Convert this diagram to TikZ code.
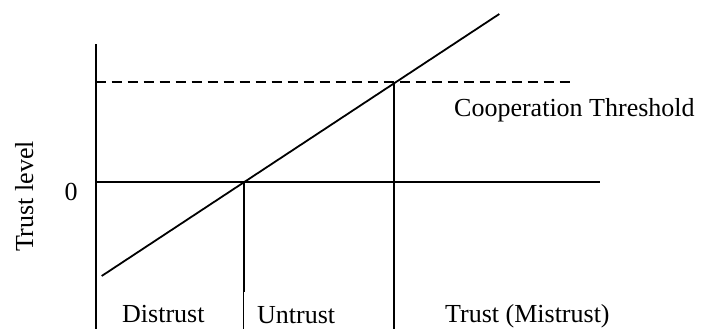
\documentclass[tikz,border=0pt]{standalone}
\usepackage{fontspec}
\setmainfont{Liberation Serif}
\begin{document}
\begin{tikzpicture}[x=1pt, y=1pt,
        axis/.style={line width=1.8pt},
        thinline/.style={line width=0.9pt},
        threshold/.style={line width=1.4pt, dash pattern=on 10pt off 6pt},
        txt/.style={inner sep=0pt, font=\fontsize{26}{31}\selectfont}
    ]
        \useasboundingbox (0,0) rectangle (702,329);

        \coordinate (axistop) at (95.7,284.7);
        \coordinate (axisbot) at (95.7,0);
        \coordinate (zeroleft) at (95.7,146.7);
        \coordinate (zeroright) at (600.3,146.7);
        \coordinate (thrleft) at (95.7,247);
        \coordinate (thrright) at (571,247);
        \coordinate (trendlow) at (101.7,53);
        \coordinate (trendhigh) at (499.3,315);
        \coordinate (zerocross) at (244.3,146.7);
        \coordinate (zerobreak) at (244.3,37);
        \coordinate (thinbreak) at (243.3,37.5);
        \coordinate (thinbot) at (243.3,0);
        \coordinate (thrcross) at (393.7,247);
        \coordinate (thrbot) at (393.7,0);

        \node[txt, rotate=90, anchor=base] (ylabel) at (33,132.5) {Trust level};
        \node[txt, anchor=base] (zero) at (71,128) {0};
        \node[txt, anchor=base west] (coop) at (454,212) {Cooperation Threshold};
        \node[txt, anchor=base west] (distrust) at (122,6) {Distrust};
        \node[txt, anchor=base west] (untrust) at (257,5) {Untrust};
        \node[txt, anchor=base west] (trust) at (445,6) {Trust (Mistrust)};

        \draw[axis] (axistop) -- (axisbot);
        \draw[axis] (zeroleft) -- (zeroright);
        \draw[threshold] (thrleft) -- (thrright);
        \draw[axis] (trendlow) -- (trendhigh);
        \draw[axis] (zerocross) -- (zerobreak);
        \draw[thinline] (thinbreak) -- (thinbot);
        \draw[axis] (thrcross) -- (thrbot);
    \end{tikzpicture}
\end{document}
